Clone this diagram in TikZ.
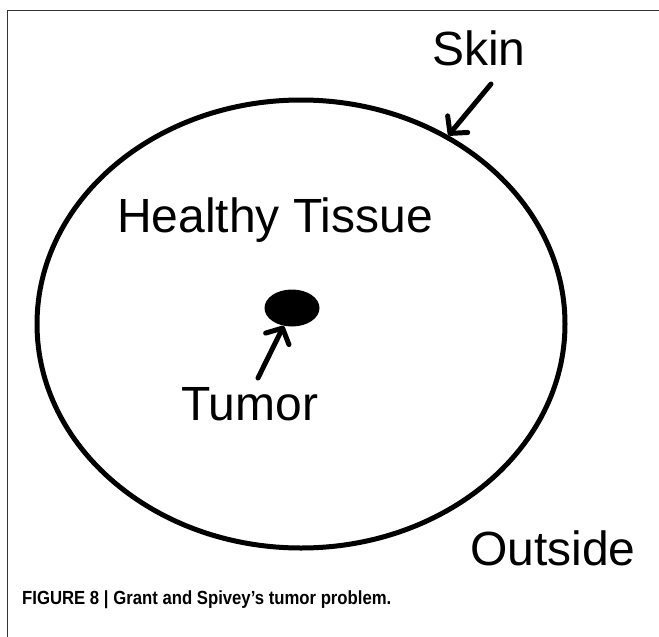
\documentclass[tikz,border=0pt]{standalone}
\usepackage{fontspec}
\setmainfont{Liberation Sans}
\usetikzlibrary{arrows.meta,shapes.geometric}
\begin{document}
\begin{tikzpicture}[x=1pt, y=-1pt, >={Straight Barb[length=12pt,width=26pt,round]},
  label/.style={inner sep=0pt, anchor=base west, font=\fontsize{48}{58}\selectfont},
  arr/.style={->, line width=5pt, line cap=round}]
\useasboundingbox (0,0) rectangle (659,637);
\draw[line width=1pt, black!80] (7,637) |- (659,10);
\node[draw, ellipse, line width=5pt, minimum width=528pt, minimum height=448pt] (body) at (301,324) {};
\node[fill, ellipse, inner sep=0pt, minimum width=55pt, minimum height=37pt] (tumor) at (292,308) {};
\node[label] (skin) at (432,65) {Skin};
\node[label] (tissue) at (117,232) {Healthy Tissue};
\node[label] (tumorlbl) at (181,420) {Tumor};
\node[label] (outside) at (470,565) {Outside};
\draw[arr] (491,84) -- (body.52);
\draw[arr] (258,378) -- (tumor.-115);
\node[inner sep=0pt, anchor=base west, font=\fontsize{19}{22}\selectfont\bfseries] (caption) at (22,604) {\scalebox{0.88}[1]{FIGURE 8 | Grant and Spivey’s tumor problem.}};
\end{tikzpicture}
\end{document}
